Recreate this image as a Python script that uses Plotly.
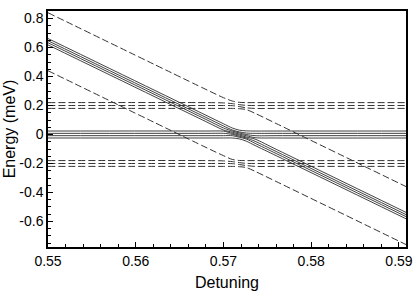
import plotly.graph_objects as go

# Detuning sample points
X = [0.550, 0.568, 0.570, 0.571, 0.5718, 0.5726, 0.5736, 0.576, 0.591]

# Solid levels near 0 meV (adiabatic branches, top to bottom)
solid_1 = [0.662, 0.133, 0.074, 0.045, 0.030, 0.025, 0.024, 0.024, 0.024]
solid_2 = [0.647, 0.118, 0.059, 0.031, 0.018, 0.010, 0.008, 0.008, 0.008]
solid_3 = [0.633, 0.104, 0.045, 0.024, 0.011, 0.000, -0.008, -0.008, -0.008]
solid_4 = [0.618, 0.089, 0.031, 0.016, 0.003, -0.008, -0.022, -0.024, -0.024]
solid_5 = [0.024, 0.024, 0.023, 0.008, -0.004, -0.017, -0.032, -0.102, -0.543]
solid_6 = [0.008, 0.008, 0.008, 0.001, -0.012, -0.024, -0.047, -0.117, -0.558]
solid_7 = [-0.008, -0.008, -0.008, -0.008, -0.019, -0.031, -0.061, -0.131, -0.572]
solid_8 = [-0.024, -0.024, -0.024, -0.024, -0.030, -0.046, -0.076, -0.146, -0.587]

# Dashed levels near +0.2 meV
upper_1 = [0.840, 0.311, 0.254, 0.231, 0.222, 0.220, 0.220, 0.220, 0.220]
upper_2 = [0.220, 0.220, 0.218, 0.213, 0.206, 0.201, 0.200, 0.200, 0.200]
upper_3 = [0.200, 0.200, 0.200, 0.199, 0.193, 0.184, 0.180, 0.180, 0.180]
upper_4 = [0.180, 0.180, 0.180, 0.180, 0.178, 0.172, 0.146, 0.076, -0.365]

# Dashed levels near -0.2 meV
lower_1 = [0.440, -0.089, -0.146, -0.172, -0.179, -0.180, -0.180, -0.180, -0.180]
lower_2 = [-0.180, -0.180, -0.182, -0.187, -0.194, -0.199, -0.200, -0.200, -0.200]
lower_3 = [-0.200, -0.200, -0.200, -0.201, -0.207, -0.214, -0.220, -0.220, -0.220]
lower_4 = [-0.220, -0.220, -0.220, -0.220, -0.222, -0.228, -0.254, -0.324, -0.765]

x_ticks = [0.55, 0.56, 0.57, 0.58, 0.59]
x_labels = ["0.55", "0.56", "0.57", "0.58", "0.59"]
y_ticks = [0.8, 0.6, 0.4, 0.2, 0, -0.2, -0.4, -0.6]
y_labels = ["0.8", "0.6", "0.4", "0.2", "0", "-0.2", "-0.4", "-0.6"]

fig = go.Figure()
for ys in [solid_1, solid_2, solid_3, solid_4, solid_5, solid_6, solid_7, solid_8]:
    fig.add_trace(go.Scatter(x=X, y=ys, mode="lines",
                             line=dict(color="#111111", width=0.8, shape="spline", smoothing=0.8),
                             showlegend=False, hoverinfo="skip"))
for ys in [upper_1, upper_2, upper_3, upper_4, lower_1, lower_2, lower_3, lower_4]:
    fig.add_trace(go.Scatter(x=X, y=ys, mode="lines",
                             line=dict(color="#333333", width=1, dash="7px,3px", shape="spline", smoothing=0.8),
                             showlegend=False, hoverinfo="skip"))

axis_common = dict(showline=True, linecolor="black", linewidth=1.5, mirror=True,
                   showgrid=False, zeroline=False, ticks="inside", ticklen=5, automargin=False,
                   tickcolor="black", tickfont=dict(family="Liberation Sans, Arial", size=14, color="black"))

fig.update_xaxes(range=[0.55, 0.5908], tickvals=x_ticks, ticktext=x_labels,
                 minor=dict(ticks="inside", dtick=0.002, ticklen=3, tickcolor="black"),
                 title=dict(text="Detuning", font=dict(family="Liberation Sans, Arial", size=16, color="black"), standoff=9),
                 **axis_common)
fig.update_yaxes(range=[-0.776, 0.852], tickvals=y_ticks, ticktext=y_labels,
                 minor=dict(ticks="inside", dtick=0.05, ticklen=3, tickcolor="black"),
                 title=dict(text="Energy (meV)", font=dict(family="Liberation Sans, Arial", size=16, color="black"), standoff=0),
                 **axis_common)

fig.update_layout(width=415, height=295, margin=dict(l=48, r=9, t=11, b=48),
                  plot_bgcolor="white", paper_bgcolor="white")

fig.write_html("out.html", config={"displayModeBar": False},
               post_script="document.body.style.margin='0';document.body.style.overflow='hidden';")
